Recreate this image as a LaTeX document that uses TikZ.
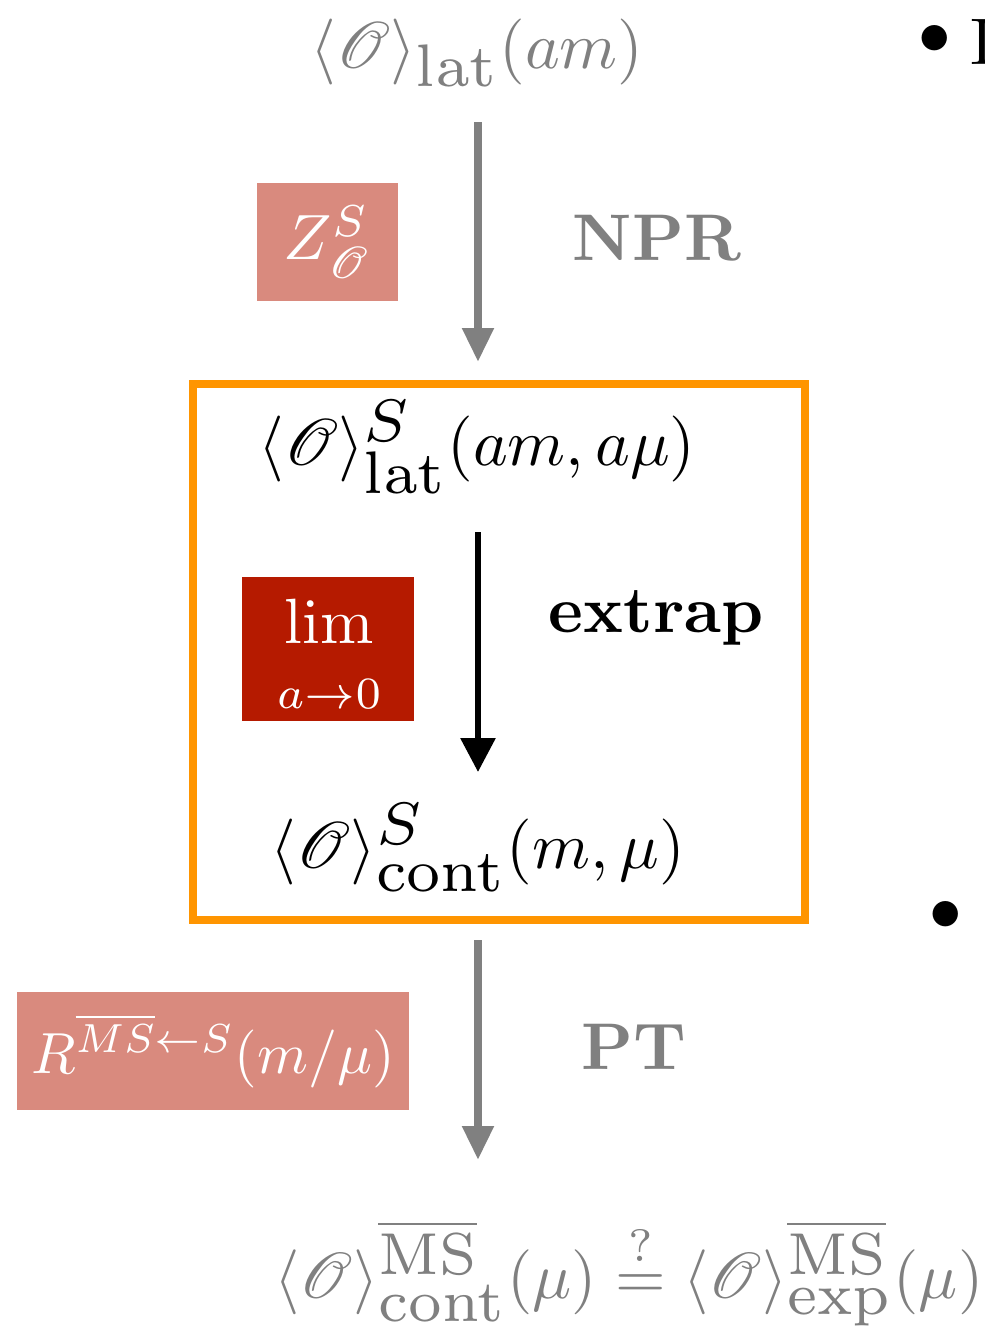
\documentclass[tikz,border=0pt]{standalone}
\usepackage{amsmath}
\usepackage{mathrsfs}
\usepackage{graphicx}
\usetikzlibrary{arrows.meta}
\definecolor{txtgray}{HTML}{808080}
\definecolor{pinkbox}{HTML}{D98A7E}
\definecolor{redbox}{HTML}{B51A00}
\definecolor{orangebox}{HTML}{FF9500}
\newcommand{\Op}{\mathscr{O}}
\newcommand{\BigT}[1]{\scalebox{3.3}{#1}}
\newcommand{\Bx}[1]{\scalebox{3.2}{#1}}
\newcommand{\bscr}[1]{\scalebox{1.3}{$\scriptstyle #1$}}
\begin{document}
\begin{tikzpicture}[x=0.5pt,y=-0.5pt,
  bigtext/.style={inner sep=0pt},
  boxtext/.style={text=white, inner sep=0pt},
  labeltext/.style={font=\bfseries, inner sep=0pt},
  flowarrow/.style={line width=4pt, -{Triangle[width=15pt,length=17pt]}},
  graytxt/.style={text=txtgray}
]
\useasboundingbox (0,0) rectangle (985,1329);
% top
\node[bigtext, graytxt, anchor=base] (top) at (477,68) {\BigT{$\langle\Op\rangle_{\bscr{\mathrm{lat}}}(am)$}};
\coordinate (a1s) at (478,122);
\coordinate (a1e) at (478,362);
\draw[flowarrow, txtgray] (a1s) -- (a1e);
\node[boxtext, fill=pinkbox, minimum width=70.5pt, minimum height=59pt] (zbox) at (327.5,242) {\Bx{$Z^{S}_{\Op}$}};
\node[labeltext, graytxt] (npr) at (657,238) {\BigT{NPR}};
% orange box
\draw[orangebox, line width=4pt] (193,384) rectangle (805,920);
\node[bigtext, anchor=base] (lat) at (477,465) {\BigT{$\langle\Op\rangle^{\bscr{S}}_{\bscr{\mathrm{lat}}}(am,a\mu)$}};
\coordinate (a2s) at (478,532);
\coordinate (a2e) at (478,772);
\draw[line width=3pt, -{Triangle[width=17pt,length=17pt]}, black] (a2s) -- (a2e);
\node[boxtext, fill=redbox, minimum width=86pt, minimum height=72pt] (limbox) at (328,649) {};
\node[boxtext, anchor=center] (limtxt) at (329,657) {\Bx{$\displaystyle\lim_{\rule{0pt}{8.5pt}a\to0}$}};
\node[labeltext] (extrap) at (656,618) {\BigT{extrap}};
\node[bigtext, anchor=base] (cont) at (478,868) {\BigT{$\langle\Op\rangle^{\bscr{S}}_{\bscr{\mathrm{cont}}}(m,\mu)$}};
% bottom arrow
\coordinate (a3s) at (478,940);
\coordinate (a3e) at (478,1160);
\draw[flowarrow, txtgray] (a3s) -- (a3e);
\node[boxtext, fill=pinkbox, minimum width=196pt, minimum height=59pt] (rbox) at (213,1051) {\scalebox{2.9}{$R^{\overline{MS}\leftarrow S}(m/\mu)$}};
\node[labeltext, graytxt] (pt) at (634,1047) {\BigT{PT}};
\node[bigtext, graytxt, anchor=base] (bottom) at (629,1298) {\scalebox{3.25}{$\langle\Op\rangle^{\bscr{\overline{\mathrm{MS}}}}_{\bscr{\mathrm{cont}}}(\mu)\stackrel{?}{=}\langle\Op\rangle^{\bscr{\overline{\mathrm{MS}}}}_{\bscr{\mathrm{exp}}}(\mu)$}};
% bullets from slide
\node[bigtext, anchor=center] (b1) at (935,42) {\scalebox{4.4}{\textbullet}};
\node[bigtext, anchor=center] (b2) at (946,918) {\scalebox{4.4}{\textbullet}};
\node[bigtext, anchor=west] (cut) at (970,42) {\BigT{I}};
\end{tikzpicture}
\end{document}
